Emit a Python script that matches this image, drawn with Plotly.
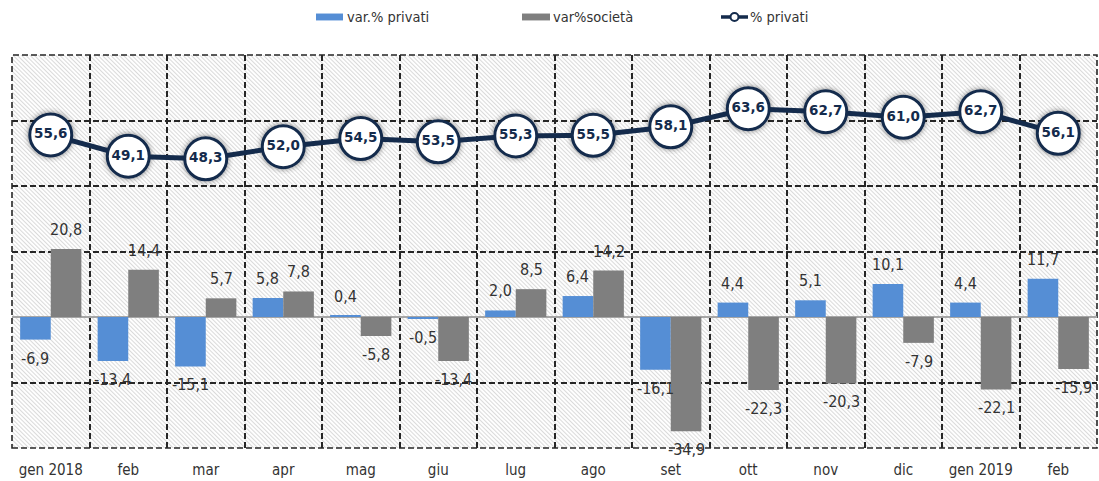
import base64
import plotly.graph_objects as go

# ---------------- data ----------------
months = ["gen 2018", "feb", "mar", "apr", "mag", "giu", "lug", "ago",
          "set", "ott", "nov", "dic", "gen 2019", "feb"]
var_privati = [-6.9, -13.4, -15.1, 5.8, 0.4, -0.5, 2.0, 6.4, -16.1, 4.4, 5.1, 10.1, 4.4, 11.7]
var_societa = [20.8, 14.4, 5.7, 7.8, -5.8, -13.4, 8.5, 14.2, -34.9, -22.3, -20.3, -7.9, -22.1, -15.9]
pct_privati = [55.6, 49.1, 48.3, 52.0, 54.5, 53.5, 55.3, 55.5, 58.1, 63.6, 62.7, 61.0, 62.7, 56.1]
series_names = ["var.% privati", "var%società", "% privati"]
y_range = [-40, 80]
y_dtick = 20

# ---------------- style ----------------
W, H = 1099, 481
ML, MR, MT, MB = 12, 2, 55, 28
PW, PH = W - ML - MR, H - MT - MB
BLUE = "#558ED5"
GREY = "#7F7F7F"
NAVY = "#142B4C"
TXT = "#333333"
FONT = "DejaVu Sans Condensed, DejaVu Sans, sans-serif"
BARGAP = 0.21
GRID = dict(color="#262626", width=1.6, dash="6px,3px")


def fmt(v):
    return f"{v:.1f}".replace(".", ",")


x = list(range(len(months)))

fig = go.Figure()

fig.add_trace(go.Bar(x=x, y=var_privati, name=series_names[0], marker=dict(color=BLUE, line=dict(width=0))))
fig.add_trace(go.Bar(x=x, y=var_societa, name=series_names[1], marker=dict(color=GREY, line=dict(width=0))))

# soft shadow behind the circle markers
for sz, op in [(55, 0.035), (51, 0.06), (48, 0.09)]:
    fig.add_trace(go.Scatter(x=x, y=pct_privati, mode="markers", hoverinfo="skip", showlegend=False,
                             marker=dict(size=sz, color=f"rgba(0,0,0,{op})", line=dict(width=0)),
                             cliponaxis=False))

fig.add_trace(go.Scatter(
    x=x, y=pct_privati, name=series_names[2], mode="lines+markers+text",
    line=dict(color=NAVY, width=5),
    marker=dict(size=42, color="white", line=dict(color=NAVY, width=3)),
    text=[fmt(v) for v in pct_privati], textposition="middle center",
    textfont=dict(family="DejaVu Sans, sans-serif", size=13.5, color=NAVY, weight="bold"),
    cliponaxis=False,
))

# data labels for the bars
off = (1 - BARGAP) / 4
annotations = []
for vals, sign in [(var_privati, -1), (var_societa, 1)]:
    for i, v in enumerate(vals):
        annotations.append(dict(
            x=i + sign * off, y=v, xref="x", yref="y", text=fmt(v), showarrow=False,
            yanchor="bottom" if v >= 0 else "top", yshift=8 if v >= 0 else -7,
            font=dict(family=FONT, size=16, color=TXT)))

# ---------------- custom legend ----------------
def px_x(px):
    return (px - ML) / PW


def px_y(py):
    return (H - MB - py) / PH


shapes = []
ly = 16.5
for (x0, x1), col in [((316, 343), BLUE), ((522, 550), GREY)]:
    shapes.append(dict(type="rect", xref="paper", yref="paper", x0=px_x(x0), x1=px_x(x1),
                       y0=px_y(ly + 3.5), y1=px_y(ly - 3.5), fillcolor=col, line=dict(width=0)))
shapes.append(dict(type="line", xref="paper", yref="paper", x0=px_x(721), x1=px_x(748),
                   y0=px_y(ly), y1=px_y(ly), line=dict(color=NAVY, width=3.5)))
shapes.append(dict(type="circle", xref="paper", yref="paper", xsizemode="pixel", ysizemode="pixel",
                   xanchor=px_x(734.5), yanchor=px_y(ly), x0=-4, x1=4, y0=-4, y1=4,
                   fillcolor="white", line=dict(color=NAVY, width=2)))
for tx, name in zip([346, 552, 749], series_names):
    annotations.append(dict(x=px_x(tx), y=px_y(ly), xref="paper", yref="paper", text=name,
                            showarrow=False, xanchor="left", yanchor="middle", borderpad=0,
                            font=dict(family=FONT, size=14.5, color=TXT)))

# dashed border of the plot area
shapes.append(dict(type="rect", xref="paper", yref="paper", x0=0, x1=1, y0=0, y1=1,
                   line=GRID, layer="below"))

# hatched plot background
svg = (f'<svg xmlns="http://www.w3.org/2000/svg" width="{PW}" height="{PH}">'
       '<defs><pattern id="h" width="3" height="3" patternUnits="userSpaceOnUse" '
       'patternTransform="rotate(-45)"><rect width="4" height="4" fill="#ffffff"/>'
       '<line x1="0.5" y1="0" x2="0.5" y2="4" stroke="#dadada" stroke-width="1.1"/></pattern></defs>'
       '<rect width="100%" height="100%" fill="url(#h)"/></svg>')
uri = "data:image/svg+xml;base64," + base64.b64encode(svg.encode()).decode()

fig.update_layout(
    width=W, height=H, margin=dict(l=ML, r=MR, t=MT, b=MB, pad=0),
    paper_bgcolor="white", plot_bgcolor="rgba(0,0,0,0)",
    barmode="group", bargap=BARGAP, bargroupgap=0,
    showlegend=False, annotations=annotations, shapes=shapes,
    images=[dict(source=uri, xref="paper", yref="paper", x=0, y=1, sizex=1, sizey=1,
                 xanchor="left", yanchor="top", sizing="stretch", layer="below")],
    font=dict(family=FONT, color=TXT),
    xaxis=dict(range=[-0.5, len(months) - 0.5], tickmode="array", tickvals=x, ticktext=months,
               ticks="outside", ticklen=8, tickcolor="rgba(0,0,0,0)", showgrid=False,
               zeroline=False, showline=False, tickfont=dict(family=FONT, size=15, color=TXT),
               minor=dict(tick0=0.5, dtick=1, showgrid=True, gridcolor=GRID["color"],
                          gridwidth=GRID["width"], griddash=GRID["dash"], ticks="")),
    yaxis=dict(range=y_range, dtick=y_dtick, showticklabels=False, showgrid=True,
               gridcolor=GRID["color"], gridwidth=GRID["width"], griddash=GRID["dash"],
               zeroline=True, zerolinecolor="#A6A6A6", zerolinewidth=2, showline=False),
)

fig.write_html("out.html")
